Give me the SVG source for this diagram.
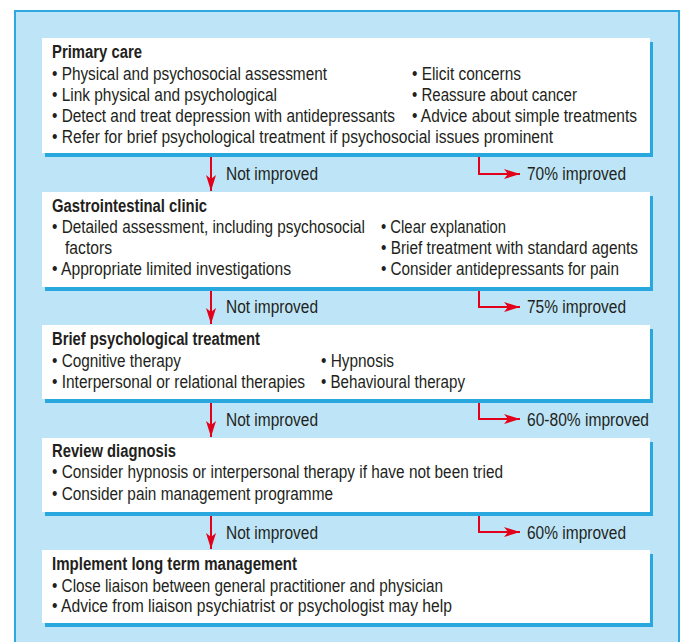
<svg xmlns="http://www.w3.org/2000/svg" width="684" height="642" viewBox="0 0 684 642">
<defs>
<style>
.panel{fill:#bde5f7;stroke:#2fa8e2;stroke-width:2}
.shadow{fill:#29a8e0}
.box{fill:#ffffff}
text{font-family:"Liberation Sans",Arial,sans-serif;font-size:17.5px;fill:#231f20}
.t{font-weight:bold}
.c{fill:none;stroke:#e3001b;stroke-width:2}
</style>
<marker id="ah" viewBox="0 0 16 10" refX="16" refY="5" markerWidth="16" markerHeight="10" markerUnits="userSpaceOnUse" orient="auto">
<path d="M0,0 L16,5 L0,10 L4,5 z" fill="#e3001b"/>
</marker>
</defs>
<rect class="panel" x="15" y="11" width="664" height="640"/>

<g id="connectors">
<line class="c" x1="211" y1="155" x2="211" y2="191" marker-end="url(#ah)"/>
<line class="c" x1="211" y1="289" x2="211" y2="324" marker-end="url(#ah)"/>
<line class="c" x1="211" y1="401" x2="211" y2="437" marker-end="url(#ah)"/>
<line class="c" x1="211" y1="514" x2="211" y2="549" marker-end="url(#ah)"/>
<polyline class="c" points="479,155 479,174 520,174" marker-end="url(#ah)"/>
<polyline class="c" points="479,289 479,307 520,307" marker-end="url(#ah)"/>
<polyline class="c" points="479,401 479,419 520,419" marker-end="url(#ah)"/>
<polyline class="c" points="479,514 479,532 520,532" marker-end="url(#ah)"/>
<text x="226" y="180" textLength="92" lengthAdjust="spacingAndGlyphs">Not improved</text>
<text x="226" y="313" textLength="92" lengthAdjust="spacingAndGlyphs">Not improved</text>
<text x="226" y="426" textLength="92" lengthAdjust="spacingAndGlyphs">Not improved</text>
<text x="226" y="539" textLength="92" lengthAdjust="spacingAndGlyphs">Not improved</text>
<text x="527" y="180" textLength="99" lengthAdjust="spacingAndGlyphs">70% improved</text>
<text x="527" y="313" textLength="99" lengthAdjust="spacingAndGlyphs">75% improved</text>
<text x="527" y="426" textLength="122" lengthAdjust="spacingAndGlyphs">60-80% improved</text>
<text x="527" y="539" textLength="99" lengthAdjust="spacingAndGlyphs">60% improved</text>
</g>

<g id="primary-care">
<rect class="shadow" x="45" y="42" width="608" height="115"/>
<rect class="box" x="42" y="38" width="608" height="115"/>
<text class="t" x="52" y="58" textLength="90" lengthAdjust="spacingAndGlyphs">Primary care</text>
<text x="52" y="80" textLength="275" lengthAdjust="spacingAndGlyphs">• Physical and psychosocial assessment</text>
<text x="52" y="101" textLength="225" lengthAdjust="spacingAndGlyphs">• Link physical and psychological</text>
<text x="52" y="122" textLength="343" lengthAdjust="spacingAndGlyphs">• Detect and treat depression with antidepressants</text>
<text x="52" y="143" textLength="501" lengthAdjust="spacingAndGlyphs">• Refer for brief psychological treatment if psychosocial issues prominent</text>
<text x="412" y="80" textLength="109" lengthAdjust="spacingAndGlyphs">• Elicit concerns</text>
<text x="412" y="101" textLength="165" lengthAdjust="spacingAndGlyphs">• Reassure about cancer</text>
<text x="412" y="122" textLength="225" lengthAdjust="spacingAndGlyphs">• Advice about simple treatments</text>
</g>

<g id="gi-clinic">
<rect class="shadow" x="45" y="196" width="608" height="95"/>
<rect class="box" x="42" y="192" width="608" height="95"/>
<text class="t" x="52" y="212" textLength="155" lengthAdjust="spacingAndGlyphs">Gastrointestinal clinic</text>
<text x="52" y="233" textLength="313" lengthAdjust="spacingAndGlyphs">• Detailed assessment, including psychosocial</text>
<text x="65" y="254" textLength="47" lengthAdjust="spacingAndGlyphs">factors</text>
<text x="52" y="275" textLength="239" lengthAdjust="spacingAndGlyphs">• Appropriate limited investigations</text>
<text x="381" y="233" textLength="125" lengthAdjust="spacingAndGlyphs">• Clear explanation</text>
<text x="381" y="254" textLength="257" lengthAdjust="spacingAndGlyphs">• Brief treatment with standard agents</text>
<text x="381" y="275" textLength="238" lengthAdjust="spacingAndGlyphs">• Consider antidepressants for pain</text>
</g>

<g id="brief-psych">
<rect class="shadow" x="45" y="329" width="608" height="74"/>
<rect class="box" x="42" y="325" width="608" height="74"/>
<text class="t" x="52" y="345" textLength="208" lengthAdjust="spacingAndGlyphs">Brief psychological treatment</text>
<text x="52" y="367" textLength="129" lengthAdjust="spacingAndGlyphs">• Cognitive therapy</text>
<text x="52" y="388" textLength="253" lengthAdjust="spacingAndGlyphs">• Interpersonal or relational therapies</text>
<text x="321" y="367" textLength="73" lengthAdjust="spacingAndGlyphs">• Hypnosis</text>
<text x="321" y="388" textLength="144" lengthAdjust="spacingAndGlyphs">• Behavioural therapy</text>
</g>

<g id="review">
<rect class="shadow" x="45" y="442" width="608" height="74"/>
<rect class="box" x="42" y="438" width="608" height="74"/>
<text class="t" x="52" y="457" textLength="124" lengthAdjust="spacingAndGlyphs">Review diagnosis</text>
<text x="52" y="478" textLength="451" lengthAdjust="spacingAndGlyphs">• Consider hypnosis or interpersonal therapy if have not been tried</text>
<text x="52" y="500" textLength="281" lengthAdjust="spacingAndGlyphs">• Consider pain management programme</text>
</g>

<g id="long-term">
<rect class="shadow" x="45" y="554" width="608" height="73"/>
<rect class="box" x="42" y="550" width="608" height="73"/>
<text class="t" x="52" y="570" textLength="245" lengthAdjust="spacingAndGlyphs">Implement long term management</text>
<text x="52" y="592" textLength="391" lengthAdjust="spacingAndGlyphs">• Close liaison between general practitioner and physician</text>
<text x="52" y="612" textLength="400" lengthAdjust="spacingAndGlyphs">• Advice from liaison psychiatrist or psychologist may help</text>
</g>
</svg>
